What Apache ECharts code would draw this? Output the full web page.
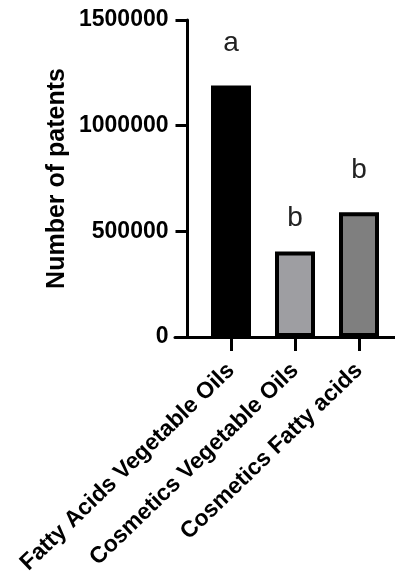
<!DOCTYPE html>
<html>
<head>
<meta charset="utf-8">
<script src="https://cdn.jsdelivr.net/npm/echarts@6/dist/echarts.min.js"></script>
<style>html,body{margin:0;padding:0;background:#fff;}#c{width:395px;height:581px;}</style>
</head>
<body>
<div id="c"></div>
<script>
var categories = ['Fatty Acids Vegetable Oils', 'Cosmetics Vegetable Oils', 'Cosmetics Fatty acids'];
var patents = [1190000, 405000, 590000];
var letters = ['a', 'b', 'b'];
var letterGaps = [28, 19, 28];
var barColors = ['#000000', '#9e9ea2', '#7f7f7f'];
var yTicks = [0, 500000, 1000000, 1500000];

var FONT = '"Liberation Sans", Arial, Helvetica, sans-serif';
var chart = echarts.init(document.getElementById('c'));
chart.setOption({
  animation: false,
  backgroundColor: '#ffffff',
  grid: [
    {left: 199, right: 4, top: 20, bottom: 244, containLabel: false, outerBoundsMode: 'none'},
    {left: 175, right: 0, top: 20, bottom: 244, containLabel: false, outerBoundsMode: 'none'}
  ],
  xAxis: [
    {
      type: 'category', gridIndex: 0, data: categories,
      axisLine: {show: false},
      axisTick: {show: true, alignWithLabel: true, length: 14, lineStyle: {color: '#000', width: 3}},
      axisLabel: {
        rotate: 44, margin: 30, interval: 0,
        color: '#000', fontFamily: FONT, fontWeight: 'bold', fontSize: 23
      }
    },
    {
      type: 'category', gridIndex: 1, data: [''],
      axisLine: {show: true, lineStyle: {color: '#000', width: 3}},
      axisTick: {show: false}, axisLabel: {show: false}
    }
  ],
  yAxis: [
    {
      type: 'value', gridIndex: 0, min: 0, max: yTicks[yTicks.length - 1], interval: yTicks[1] - yTicks[0],
      offset: 11.5,
      name: 'Number of patents', nameLocation: 'middle', nameGap: 118,
      nameTextStyle: {color: '#000', fontFamily: FONT, fontWeight: 'bold', fontSize: 25},
      axisLine: {show: true, lineStyle: {color: '#000', width: 3}},
      axisTick: {show: true, length: 12, lineStyle: {color: '#000', width: 3}},
      axisLabel: {
        margin: 19, color: '#000', fontFamily: FONT, fontWeight: 'bold', fontSize: 23,
        formatter: function (v) { return String(v); }
      },
      splitLine: {show: false}
    },
    {type: 'value', gridIndex: 1, show: false, min: 0, max: 1}
  ],
  series: [{
    type: 'bar',
    xAxisIndex: 0, yAxisIndex: 0,
    barWidth: 40,
    data: patents.map(function (v, i) {
      return {
        value: v,
        itemStyle: {color: barColors[i], borderColor: '#000', borderWidth: 4},
        label: {distance: letterGaps[i]}
      };
    }),
    label: {
      show: true, position: 'top',
      color: '#222', fontFamily: FONT, fontSize: 28,
      formatter: function (p) { return letters[p.dataIndex]; }
    }
  }]
});
</script>
</body>
</html>
